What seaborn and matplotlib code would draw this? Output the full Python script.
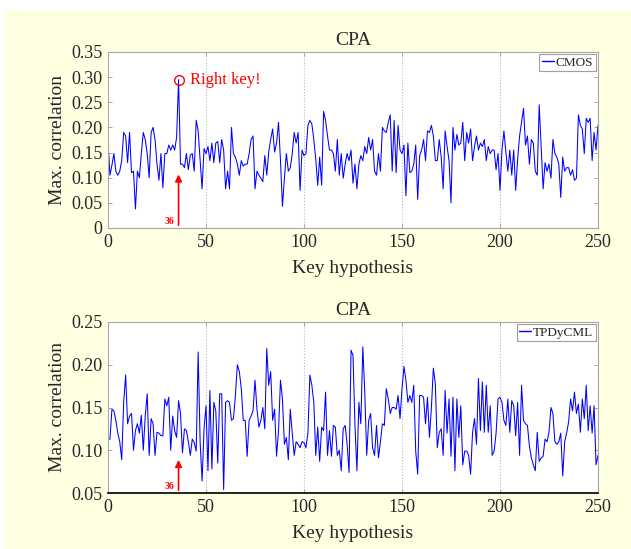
import numpy as np
import pandas as pd
import matplotlib
matplotlib.use("Agg")
import matplotlib.pyplot as plt
import seaborn as sns
from matplotlib.patches import Rectangle

# ---------------- data ----------------
key_hypothesis = list(range(0, 251))

cmos_corr = [
    0.170, 0.105, 0.125, 0.148, 0.113, 0.105, 0.113, 0.134, 0.190, 0.183,
    0.130, 0.190, 0.110, 0.113, 0.038, 0.113, 0.100, 0.148, 0.190, 0.176,
    0.148, 0.100, 0.190, 0.200, 0.176, 0.127, 0.095, 0.148, 0.080, 0.148,
    0.148, 0.165, 0.155, 0.165, 0.155, 0.180, 0.295, 0.127, 0.127, 0.120,
    0.148, 0.116, 0.145, 0.148, 0.113, 0.214, 0.193, 0.134, 0.078, 0.158,
    0.148, 0.162, 0.134, 0.169, 0.130, 0.169, 0.172, 0.130, 0.176, 0.155,
    0.078, 0.113, 0.078, 0.200, 0.148, 0.141, 0.127, 0.105, 0.134, 0.123,
    0.127, 0.127, 0.148, 0.176, 0.183, 0.078, 0.113, 0.105, 0.099, 0.092,
    0.144, 0.105, 0.151, 0.176, 0.197, 0.151, 0.169, 0.210, 0.134, 0.043,
    0.099, 0.148, 0.113, 0.120, 0.148, 0.190, 0.169, 0.190, 0.075, 0.155,
    0.144, 0.148, 0.204, 0.214, 0.207, 0.176, 0.137, 0.085, 0.141, 0.085,
    0.232, 0.214, 0.183, 0.155, 0.155, 0.148, 0.113, 0.176, 0.105, 0.148,
    0.099, 0.127, 0.148, 0.134, 0.155, 0.089, 0.127, 0.078, 0.127, 0.144,
    0.134, 0.162, 0.148, 0.180, 0.155, 0.176, 0.113, 0.105, 0.148, 0.113,
    0.200, 0.193, 0.190, 0.210, 0.225, 0.113, 0.214, 0.110, 0.204, 0.155,
    0.148, 0.165, 0.064, 0.169, 0.110, 0.113, 0.127, 0.165, 0.057, 0.144,
    0.155, 0.176, 0.134, 0.193, 0.190, 0.204, 0.183, 0.134, 0.134, 0.176,
    0.141, 0.078, 0.193, 0.162, 0.134, 0.050, 0.200, 0.155, 0.186, 0.165,
    0.169, 0.210, 0.134, 0.190, 0.169, 0.197, 0.134, 0.162, 0.183, 0.155,
    0.169, 0.162, 0.176, 0.134, 0.162, 0.148, 0.155, 0.155, 0.116, 0.148,
    0.075, 0.155, 0.193, 0.151, 0.113, 0.155, 0.105, 0.155, 0.075, 0.137,
    0.183, 0.210, 0.238, 0.165, 0.183, 0.127, 0.176, 0.169, 0.113, 0.105,
    0.245, 0.162, 0.078, 0.130, 0.113, 0.127, 0.099, 0.176, 0.148, 0.141,
    0.127, 0.061, 0.141, 0.113, 0.120, 0.120, 0.105, 0.116, 0.095, 0.099,
    0.225, 0.204, 0.197, 0.148, 0.218, 0.210, 0.218, 0.134, 0.190, 0.155,
    0.204,
]

tpdycml_corr = [
    0.113, 0.113, 0.148, 0.146, 0.135, 0.120, 0.110, 0.089, 0.156, 0.188,
    0.131, 0.140, 0.143, 0.100, 0.123, 0.131, 0.120, 0.141, 0.100, 0.140,
    0.166, 0.094, 0.137, 0.131, 0.094, 0.121, 0.120, 0.117, 0.117, 0.160,
    0.152, 0.162, 0.100, 0.140, 0.123, 0.115, 0.158, 0.143, 0.097, 0.125,
    0.123, 0.110, 0.094, 0.113, 0.109, 0.099, 0.215, 0.110, 0.064, 0.125,
    0.152, 0.076, 0.170, 0.078, 0.156, 0.146, 0.085, 0.166, 0.166, 0.054,
    0.156, 0.158, 0.156, 0.135, 0.137, 0.164, 0.200, 0.192, 0.172, 0.135,
    0.135, 0.093, 0.135, 0.140, 0.146, 0.182, 0.148, 0.127, 0.135, 0.150,
    0.125, 0.219, 0.176, 0.192, 0.135, 0.148, 0.093, 0.123, 0.182, 0.160,
    0.107, 0.115, 0.089, 0.148, 0.120, 0.094, 0.110, 0.107, 0.103, 0.110,
    0.109, 0.103, 0.120, 0.188, 0.176, 0.156, 0.094, 0.127, 0.087, 0.127,
    0.123, 0.168, 0.094, 0.123, 0.093, 0.129, 0.127, 0.094, 0.100, 0.076,
    0.125, 0.129, 0.107, 0.074, 0.217, 0.211, 0.129, 0.076, 0.156, 0.131,
    0.221, 0.168, 0.094, 0.135, 0.143, 0.103, 0.094, 0.129, 0.091, 0.110,
    0.131, 0.129, 0.172, 0.160, 0.143, 0.150, 0.150, 0.148, 0.164, 0.137,
    0.172, 0.198, 0.182, 0.156, 0.164, 0.156, 0.176, 0.099, 0.072, 0.164,
    0.164, 0.162, 0.131, 0.162, 0.115, 0.150, 0.196, 0.178, 0.103, 0.121,
    0.125, 0.094, 0.170, 0.120, 0.160, 0.093, 0.162, 0.076, 0.160, 0.115,
    0.152, 0.083, 0.099, 0.099, 0.094, 0.072, 0.121, 0.137, 0.107, 0.184,
    0.123, 0.180, 0.121, 0.176, 0.121, 0.152, 0.094, 0.099, 0.120, 0.160,
    0.162, 0.156, 0.135, 0.129, 0.160, 0.121, 0.158, 0.152, 0.117, 0.156,
    0.094, 0.176, 0.135, 0.131, 0.129, 0.105, 0.091, 0.083, 0.076, 0.121,
    0.087, 0.091, 0.093, 0.113, 0.110, 0.121, 0.150, 0.143, 0.110, 0.107,
    0.110, 0.120, 0.070, 0.110, 0.120, 0.133, 0.160, 0.146, 0.168, 0.143,
    0.154, 0.121, 0.160, 0.137, 0.176, 0.123, 0.152, 0.120, 0.152, 0.083,
    0.094,
]

top_yticks = [0, 0.05, 0.10, 0.15, 0.20, 0.25, 0.30, 0.35]
top_yticklabels = ["0", "0.05", "0.10", "0.15", "0.20", "0.25", "0.30", "0.35"]
bot_yticks = [0.05, 0.10, 0.15, 0.20, 0.25]
bot_yticklabels = ["0.05", "0.10", "0.15", "0.20", "0.25"]
xticks = [0, 50, 100, 150, 200, 250]
right_key = 36

# ---------------- style ----------------
sns.set_style("white")
plt.rcParams["font.family"] = ["Liberation Serif", "DejaVu Serif"]
plt.rcParams["mathtext.fontset"] = "stix"

fig = plt.figure(figsize=(6.31, 5.49), dpi=100, facecolor="white")
# light yellow page background (white strip along top and left)
fig.patches.append(Rectangle((4 / 631, 0), 1, 1 - 10 / 549, transform=fig.transFigure,
                             facecolor="#FFFFE2", edgecolor="none", zorder=-10))

ax1 = fig.add_axes([108 / 631, 1 - 228 / 549, 490 / 631, 176 / 549])
ax2 = fig.add_axes([108 / 631, 1 - 493 / 549, 490 / 631, 171 / 549])

df1 = pd.DataFrame({"Key hypothesis": key_hypothesis, "corr": cmos_corr, "dev": "CMOS"})
df2 = pd.DataFrame({"Key hypothesis": key_hypothesis, "corr": tpdycml_corr, "dev": "TPDyCML"})

for ax, df, yt, ytl, ylim in [
    (ax1, df1, top_yticks, top_yticklabels, (0, 0.35)),
    (ax2, df2, bot_yticks, bot_yticklabels, (0.05, 0.25)),
]:
    sns.lineplot(data=df, x="Key hypothesis", y="corr", hue="dev", palette=["#0000FF"],
                 linewidth=0.75, ax=ax, legend=True)
    ax.set_facecolor("white")
    ax.set_xlim(0, 250)
    ax.set_ylim(*ylim)
    ax.set_xticks(xticks)
    ax.set_xticklabels([str(t) for t in xticks])
    ax.set_yticks(yt)
    ax.set_yticklabels(ytl)
    ax.tick_params(direction="in", length=3, width=0.6, color="#999999",
                   labelsize=13, pad=4, top=True, right=True, bottom=True, left=True)
    ax.xaxis.grid(True, linestyle=":", color="#b8b8b8", linewidth=0.8)
    ax.yaxis.grid(False)
    for s in ax.spines.values():
        s.set_color("#a8a8a8")
        s.set_linewidth(0.8)
    ax.set_xlabel("Key hypothesis", fontsize=14, labelpad=7)
    ax.set_ylabel("Max. correlation", fontsize=14, labelpad=4)
    ax.set_title("CPA", fontsize=14, pad=5)
    leg = ax.legend(loc="upper right", fontsize=9.5, frameon=True, fancybox=False,
                    handlelength=0.9, handletextpad=0.15, borderpad=0.2,
                    borderaxespad=0.15)
    leg.get_frame().set_edgecolor("#888888")
    leg.get_frame().set_linewidth(0.8)
    for lh in leg.get_lines():
        lh.set_linewidth(1.0)

ax2.spines["bottom"].set_color("black")
ax2.spines["bottom"].set_linewidth(1.2)

# annotations on top axes
peak = cmos_corr[right_key]
ax1.plot([right_key], [peak], marker="o", markersize=7, markerfacecolor="none",
         markeredgecolor="red", markeredgewidth=1.0, linestyle="none")
ax1.text(right_key + 6, peak, "Right key!", color="red", fontsize=12, va="center", ha="left")
ax1.annotate("", xy=(right_key, 0.112), xytext=(right_key, 0.0),
             arrowprops=dict(arrowstyle="-|>,head_length=0.4,head_width=0.2",
                             color="red", lw=1.2))
ax1.text(right_key - 2, 0.003, "36", color="red", fontsize=7, fontweight="bold",
         ha="right", va="bottom")

ax2.annotate("", xy=(right_key, 0.092), xytext=(right_key, 0.05),
             arrowprops=dict(arrowstyle="-|>,head_length=0.4,head_width=0.2",
                             color="red", lw=1.2))
ax2.text(right_key - 2, 0.052, "36", color="red", fontsize=7, fontweight="bold",
         ha="right", va="bottom")

fig.savefig("out.png", dpi=100, facecolor=fig.get_facecolor())
